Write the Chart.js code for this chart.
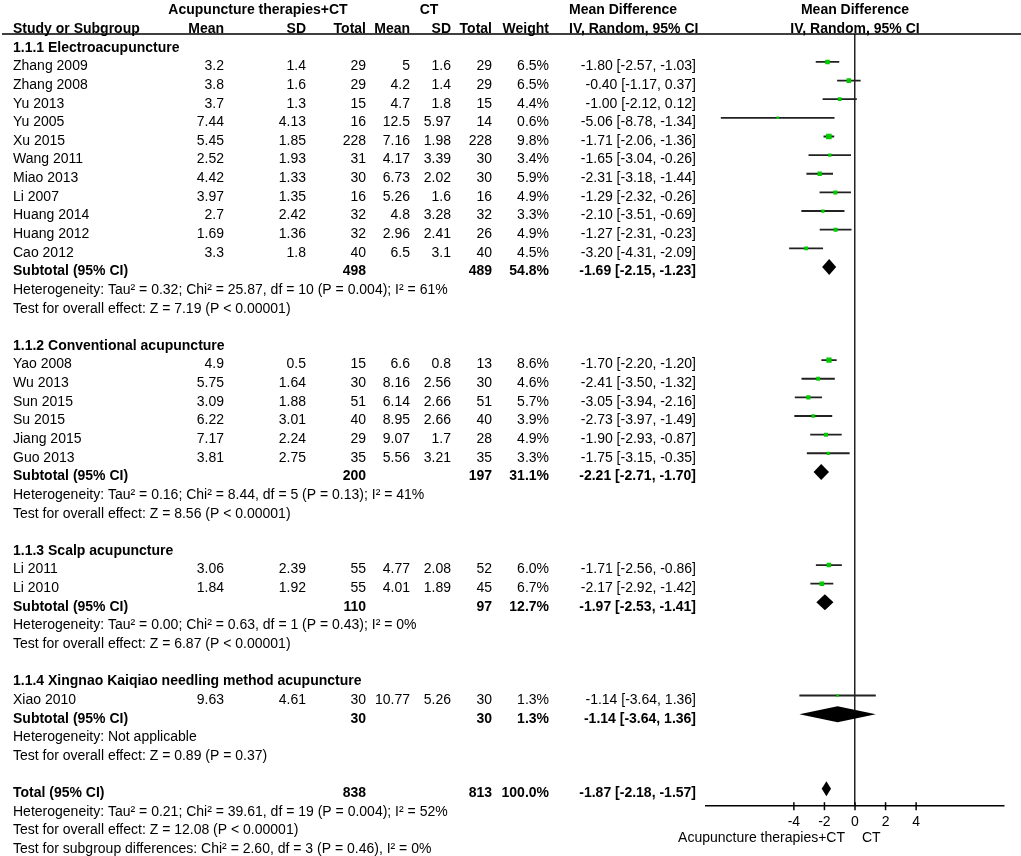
<!DOCTYPE html>
<html>
<head>
<meta charset="utf-8">
<script src="https://cdn.jsdelivr.net/npm/chart.js@4.4.0/dist/chart.umd.min.js"></script>
<style>
  body { margin: 0; background: #fff; }
  canvas { display: block; }
</style>
</head>
<body>
<canvas id="forest" width="1021" height="856"></canvas>
<script>
// Datos del forest plot
const groupNames = ['1.1.1 Electroacupuncture', '1.1.2 Conventional acupuncture', '1.1.3 Scalp acupuncture', '1.1.4 Xingnao Kaiqiao needling method acupuncture'];
const groupSizes = [11, 6, 2, 1];

const studyNames = ['Zhang 2009', 'Zhang 2008', 'Yu 2013', 'Yu 2005', 'Xu 2015', 'Wang 2011', 'Miao 2013', 'Li 2007', 'Huang 2014', 'Huang 2012', 'Cao 2012',
  'Yao 2008', 'Wu 2013', 'Sun 2015', 'Su 2015', 'Jiang 2015', 'Guo 2013',
  'Li 2011', 'Li 2010',
  'Xiao 2010'];
const expMean = [3.2, 3.8, 3.7, 7.44, 5.45, 2.52, 4.42, 3.97, 2.7, 1.69, 3.3, 4.9, 5.75, 3.09, 6.22, 7.17, 3.81, 3.06, 1.84, 9.63];
const expSD = [1.4, 1.6, 1.3, 4.13, 1.85, 1.93, 1.33, 1.35, 2.42, 1.36, 1.8, 0.5, 1.64, 1.88, 3.01, 2.24, 2.75, 2.39, 1.92, 4.61];
const expN = [29, 29, 15, 16, 228, 31, 30, 16, 32, 32, 40, 15, 30, 51, 40, 29, 35, 55, 55, 30];
const ctlMean = [5, 4.2, 4.7, 12.5, 7.16, 4.17, 6.73, 5.26, 4.8, 2.96, 6.5, 6.6, 8.16, 6.14, 8.95, 9.07, 5.56, 4.77, 4.01, 10.77];
const ctlSD = [1.6, 1.4, 1.8, 5.97, 1.98, 3.39, 2.02, 1.6, 3.28, 2.41, 3.1, 0.8, 2.56, 2.66, 2.66, 1.7, 3.21, 2.08, 1.89, 5.26];
const ctlN = [29, 29, 15, 14, 228, 30, 30, 16, 32, 26, 40, 13, 30, 51, 40, 28, 35, 52, 45, 30];
const weights = [6.5, 6.5, 4.4, 0.6, 9.8, 3.4, 5.9, 4.9, 3.3, 4.9, 4.5, 8.6, 4.6, 5.7, 3.9, 4.9, 3.3, 6.0, 6.7, 1.3];
const meanDiff = [-1.80, -0.40, -1.00, -5.06, -1.71, -1.65, -2.31, -1.29, -2.10, -1.27, -3.20, -1.70, -2.41, -3.05, -2.73, -1.90, -1.75, -1.71, -2.17, -1.14];
const ciLow = [-2.57, -1.17, -2.12, -8.78, -2.06, -3.04, -3.18, -2.32, -3.51, -2.31, -4.31, -2.20, -3.50, -3.94, -3.97, -2.93, -3.15, -2.56, -2.92, -3.64];
const ciHigh = [-1.03, 0.37, 0.12, -1.34, -1.36, -0.26, -1.44, -0.26, -0.69, -0.23, -2.09, -1.20, -1.32, -2.16, -1.49, -0.87, -0.35, -0.86, -1.42, 1.36];

// Subtotales por subgrupo y total
const subExpN = [498, 200, 110, 30];
const subCtlN = [489, 197, 97, 30];
const subWeight = [54.8, 31.1, 12.7, 1.3];
const subMD = [-1.69, -2.21, -1.97, -1.14];
const subLow = [-2.15, -2.71, -2.53, -3.64];
const subHigh = [-1.23, -1.70, -1.41, 1.36];
const subHet = [
  'Heterogeneity: Tau² = 0.32; Chi² = 25.87, df = 10 (P = 0.004); I² = 61%',
  'Heterogeneity: Tau² = 0.16; Chi² = 8.44, df = 5 (P = 0.13); I² = 41%',
  'Heterogeneity: Tau² = 0.00; Chi² = 0.63, df = 1 (P = 0.43); I² = 0%',
  'Heterogeneity: Not applicable'
];
const subTest = [
  'Test for overall effect: Z = 7.19 (P < 0.00001)',
  'Test for overall effect: Z = 8.56 (P < 0.00001)',
  'Test for overall effect: Z = 6.87 (P < 0.00001)',
  'Test for overall effect: Z = 0.89 (P = 0.37)'
];
const totalVals = [838, 813, 100.0, -1.87, -2.18, -1.57];
const totalNotes = [
  'Heterogeneity: Tau² = 0.21; Chi² = 39.61, df = 19 (P = 0.004); I² = 52%',
  'Test for overall effect: Z = 12.08 (P < 0.00001)',
  'Test for subgroup differences: Chi² = 2.60, df = 3 (P = 0.46), I² = 0%'
];
const xTicks = [-4, -2, 0, 2, 4];
const axisLabels = ['Acupuncture therapies+CT', 'CT'];

// Ubicar cada fila de la tabla
const rows = [];
let r = 1, s = 0;
groupNames.forEach((g, gi) => {
  rows.push({ kind: 'group', r: r++, gi });
  for (let k = 0; k < groupSizes[gi]; k++) rows.push({ kind: 'study', r: r++, si: s++ });
  rows.push({ kind: 'subtotal', r: r++, gi });
  rows.push({ kind: 'het', r: r++, gi });
  rows.push({ kind: 'test', r: r++, gi });
  r++;
});
const totalRow = r;

const studyRows = rows.filter(o => o.kind === 'study');
const ciData = [];
studyRows.forEach(o => {
  ciData.push({ x: ciLow[o.si], y: o.r }, { x: ciHigh[o.si], y: o.r }, { x: ciHigh[o.si], y: null });
});
const squareData = studyRows.map(o => ({ x: meanDiff[o.si], y: o.r }));

const FONT = '"Liberation Sans", Arial, sans-serif';
const FS = 14;
const col = { name: 13, expMean: 224, expSD: 306, expN: 366, ctlMean: 410, ctlSD: 451, ctlN: 492, weight: 549, ci: 696 };
const fmt = v => v.toFixed(2);
const ciText = (m, lo, hi) => `${fmt(m)} [${fmt(lo)}, ${fmt(hi)}]`;

const forestPlugin = {
  id: 'forestTable',
  afterDatasetsDraw(chart) {
    const ctx = chart.ctx;
    const xs = chart.scales.x, ys = chart.scales.y;
    const diamond = (m, lo, hi, row, h) => {
      const y = ys.getPixelForValue(row);
      ctx.beginPath();
      ctx.moveTo(xs.getPixelForValue(lo), y);
      ctx.lineTo(xs.getPixelForValue(m), y - h);
      ctx.lineTo(xs.getPixelForValue(hi), y);
      ctx.lineTo(xs.getPixelForValue(m), y + h);
      ctx.closePath();
      ctx.fill();
    };
    ctx.save();
    ctx.fillStyle = '#000';
    rows.filter(o => o.kind === 'subtotal').forEach(o => diamond(subMD[o.gi], subLow[o.gi], subHigh[o.gi], o.r, 8));
    diamond(totalVals[3], totalVals[4], totalVals[5], totalRow, 7.5);
    ctx.restore();
  },
  afterDraw(chart) {
    const ctx = chart.ctx;
    const xs = chart.scales.x, ys = chart.scales.y;
    const area = chart.chartArea;
    const rowY = row => ys.getPixelForValue(row) + 4.5;
    const txt = (t, x, row, align, bold) => {
      ctx.font = (bold ? 'bold ' : '') + FS + 'px ' + FONT;
      ctx.textAlign = align;
      ctx.fillText(t, x, rowY(row));
    };
    ctx.save();
    ctx.fillStyle = '#000';
    ctx.textBaseline = 'middle';

    // Encabezados
    txt('Acupuncture therapies+CT', 258, -1, 'center', true);
    txt('CT', 429, -1, 'center', true);
    txt('Mean Difference', 569, -1, 'left', true);
    txt('Mean Difference', xs.getPixelForValue(0), -1, 'center', true);
    txt('Study or Subgroup', col.name, 0, 'left', true);
    txt('Mean', col.expMean, 0, 'right', true);
    txt('SD', col.expSD, 0, 'right', true);
    txt('Total', col.expN, 0, 'right', true);
    txt('Mean', col.ctlMean, 0, 'right', true);
    txt('SD', col.ctlSD, 0, 'right', true);
    txt('Total', col.ctlN, 0, 'right', true);
    txt('Weight', col.weight, 0, 'right', true);
    txt('IV, Random, 95% CI', 569, 0, 'left', true);
    txt('IV, Random, 95% CI', xs.getPixelForValue(0), 0, 'center', true);

    // Linea bajo el encabezado
    ctx.strokeStyle = '#000';
    ctx.lineWidth = 1.5;
    ctx.beginPath();
    ctx.moveTo(2, area.top);
    ctx.lineTo(1021, area.top);
    ctx.stroke();

    rows.forEach(o => {
      if (o.kind === 'group') txt(groupNames[o.gi], col.name, o.r, 'left', true);
      if (o.kind === 'study') {
        const i = o.si;
        txt(studyNames[i], col.name, o.r, 'left');
        txt(String(expMean[i]), col.expMean, o.r, 'right');
        txt(String(expSD[i]), col.expSD, o.r, 'right');
        txt(String(expN[i]), col.expN, o.r, 'right');
        txt(String(ctlMean[i]), col.ctlMean, o.r, 'right');
        txt(String(ctlSD[i]), col.ctlSD, o.r, 'right');
        txt(String(ctlN[i]), col.ctlN, o.r, 'right');
        txt(weights[i].toFixed(1) + '%', col.weight, o.r, 'right');
        txt(ciText(meanDiff[i], ciLow[i], ciHigh[i]), col.ci, o.r, 'right');
      }
      if (o.kind === 'subtotal') {
        const g = o.gi;
        txt('Subtotal (95% CI)', col.name, o.r, 'left', true);
        txt(String(subExpN[g]), col.expN, o.r, 'right', true);
        txt(String(subCtlN[g]), col.ctlN, o.r, 'right', true);
        txt(subWeight[g].toFixed(1) + '%', col.weight, o.r, 'right', true);
        txt(ciText(subMD[g], subLow[g], subHigh[g]), col.ci, o.r, 'right', true);
      }
      if (o.kind === 'het') txt(subHet[o.gi], col.name, o.r, 'left');
      if (o.kind === 'test') txt(subTest[o.gi], col.name, o.r, 'left');
    });

    // Total
    txt('Total (95% CI)', col.name, totalRow, 'left', true);
    txt(String(totalVals[0]), col.expN, totalRow, 'right', true);
    txt(String(totalVals[1]), col.ctlN, totalRow, 'right', true);
    txt(totalVals[2].toFixed(1) + '%', col.weight, totalRow, 'right', true);
    txt(ciText(totalVals[3], totalVals[4], totalVals[5]), col.ci, totalRow, 'right', true);
    totalNotes.forEach((t, k) => txt(t, col.name, totalRow + 1 + k, 'left'));

    // Marcas del eje que cruzan la linea
    const axisY = area.bottom;
    ctx.lineWidth = 1.5;
    xTicks.forEach(v => {
      const x = xs.getPixelForValue(v);
      ctx.beginPath();
      ctx.moveTo(x, axisY - 4);
      ctx.lineTo(x, axisY + 4);
      ctx.stroke();
    });

    // Etiquetas bajo el eje
    ctx.font = FS + 'px ' + FONT;
    ctx.textAlign = 'right';
    ctx.fillText(axisLabels[0], 845, 838);
    ctx.textAlign = 'left';
    ctx.fillText(axisLabels[1], 862, 838);
    ctx.restore();
  }
};

new Chart(document.getElementById('forest'), {
  type: 'scatter',
  data: {
    datasets: [
      {
        data: squareData,
        pointStyle: 'rect',
        backgroundColor: '#00cc00',
        borderWidth: 0,
        pointRadius: ctx => Math.max(2.5, 1.8 * Math.sqrt(weights[ctx.dataIndex])) / Math.SQRT2
      },
      {
        data: ciData,
        showLine: true,
        spanGaps: false,
        borderColor: '#222',
        borderWidth: 1.8,
        pointRadius: 0
      }
    ]
  },
  options: {
    responsive: false,
    animation: false,
    layout: { padding: { left: 706, right: 17, top: 34, bottom: 17 } },
    plugins: { legend: { display: false }, tooltip: { enabled: false } },
    scales: {
      x: {
        type: 'linear',
        min: -9.75,
        max: 9.75,
        afterBuildTicks: axis => { axis.ticks = xTicks.map(v => ({ value: v })); },
        ticks: { color: '#000', font: { family: FONT, size: FS }, padding: 8, maxRotation: 0, autoSkip: false },
        grid: {
          drawTicks: false,
          color: ctx => (ctx.tick && ctx.tick.value === 0 ? '#222' : 'rgba(0,0,0,0)'),
          lineWidth: 1.5
        },
        border: { display: true, color: '#000', width: 1.5 }
      },
      y: {
        type: 'linear',
        display: false,
        reverse: true,
        min: 0.5,
        max: 41.94
      }
    }
  },
  plugins: [forestPlugin]
});
</script>
</body>
</html>
